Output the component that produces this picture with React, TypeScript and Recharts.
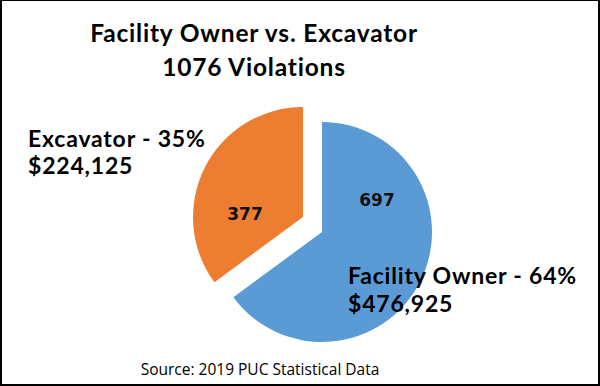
import { Cell, Pie, PieChart } from "recharts";

const BLUE = "#5B9BD5";
const ORANGE = "#ED7D31";

// values
const categories = ["Facility Owner", "Excavator"];
const violations = [697, 377];
const percents = ["64%", "35%"];
const fines = ["$476,925", "$224,125"];

const data = categories.map((name, i) => ({ name, value: violations[i] }));

// where the inside numbers sit, relative to each slice's centre
const innerOffsets = [
  { dx: 55, dy: -26 },
  { dx: -58, dy: 3 },
];

const labelFont = "Lato, 'Noto Sans', sans-serif";

function InnerLabel(show: number) {
  return (props: any) => {
    const { cx, cy, index } = props;
    if (index !== show) return null;
    const o = innerOffsets[index];
    return (
      <text
        x={cx + o.dx}
        y={cy + o.dy}
        textAnchor="middle"
        fill="#111"
        fontSize={17}
        fontWeight={700}
        fontFamily="'DejaVu Sans', sans-serif"
      >
        {violations[index]}
      </text>
    );
  };
}

export default function App() {
  return (
    <div style={{ position: "absolute", left: 0, top: 0, width: 600, height: 386, background: "#fff" }}>
      <PieChart width={600} height={386}>
        <Pie
          data={data}
          dataKey="value"
          cx={317}
          cy={227}
          outerRadius={110}
          startAngle={90}
          endAngle={-270}
          stroke="none"
          labelLine={false}
          label={InnerLabel(0)}
          isAnimationActive={false}
        >
          <Cell fill={BLUE} />
          <Cell fill="none" />
        </Pie>
        <Pie
          data={data}
          dataKey="value"
          cx={298}
          cy={212}
          outerRadius={110}
          startAngle={90}
          endAngle={-270}
          stroke="none"
          labelLine={false}
          label={InnerLabel(1)}
          isAnimationActive={false}
        >
          <Cell fill="none" />
          <Cell fill={ORANGE} />
        </Pie>
      </PieChart>

      <div
        style={{
          position: "absolute",
          left: 54,
          width: 400,
          top: 16,
          textAlign: "center",
          fontFamily: labelFont,
          fontWeight: 700,
          fontSize: 24.5,
          letterSpacing: 0.8,
          lineHeight: "34px",
          color: "#000",
        }}
      >
        <div>Facility Owner vs. Excavator</div>
        <div>1076 Violations</div>
      </div>

      <div
        style={{
          position: "absolute",
          left: 28,
          top: 125,
          fontFamily: labelFont,
          fontWeight: 700,
          fontSize: 23,
          letterSpacing: 0.8,
          lineHeight: "27px",
          color: "#000",
        }}
      >
        <div>{`${categories[1]} - ${percents[1]}`}</div>
        <div>{fines[1]}</div>
      </div>

      <div
        style={{
          position: "absolute",
          left: 348,
          top: 261,
          fontFamily: labelFont,
          fontWeight: 700,
          fontSize: 23,
          letterSpacing: 0.8,
          lineHeight: "28px",
          color: "#000",
        }}
      >
        <div>{`${categories[0]} - ${percents[0]}`}</div>
        <div>{fines[0]}</div>
      </div>

      <div
        style={{
          position: "absolute",
          left: 60,
          width: 400,
          top: 359,
          textAlign: "center",
          fontFamily: "'Open Sans', sans-serif",
          fontSize: 15.5,
          lineHeight: "20px",
          color: "#000",
        }}
      >
        Source: 2019 PUC Statistical Data
      </div>

      <div
        style={{
          position: "absolute",
          inset: 0,
          border: "2px solid #000",
          borderTopWidth: 1,
          boxSizing: "border-box",
          pointerEvents: "none",
        }}
      />
    </div>
  );
}
